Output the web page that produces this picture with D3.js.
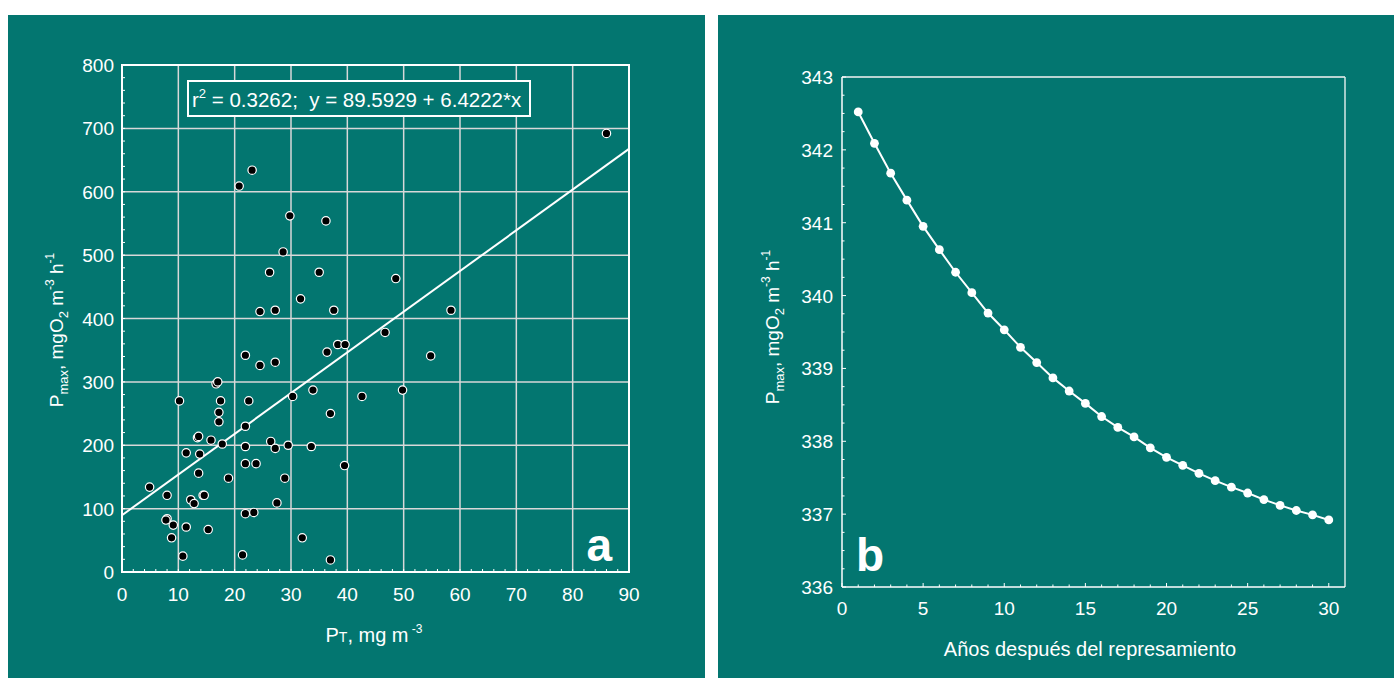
<!DOCTYPE html>
<html>
<head>
<meta charset="utf-8">
<script src="https://cdn.jsdelivr.net/npm/d3@7"></script>
<style>
  body { margin: 0; background: #fff; }
  svg { display: block; font-family: 'Liberation Sans', Arial, sans-serif; }
  text { fill: #fff; }
</style>
</head>
<body>
<svg id="chart" width="1394" height="679"></svg>
<script>
// panel a: total phosphorus vs Pmax
const ptValues = [23.1, 20.8, 29.8, 36.2, 28.6, 26.2, 35.0, 31.7, 24.5, 27.2, 37.6,
  21.9, 24.5, 27.2, 36.4, 38.3, 39.6, 16.7, 17.0, 10.2, 17.5, 22.5, 30.3, 33.9, 42.6,
  17.2, 37.0, 17.2, 21.9, 13.4, 13.6, 15.8, 17.8, 26.4, 27.2, 29.5, 21.9, 33.6, 11.4,
  13.8, 21.9, 23.8, 39.5, 13.6, 18.9, 28.9, 4.9, 8.0, 14.4, 14.6, 12.2, 12.8, 27.5,
  21.9, 23.4, 8.0, 7.8, 9.1, 11.4, 15.3, 8.8, 32.0, 10.8, 21.4, 37.0,
  86.0, 48.6, 58.4, 46.7, 54.8, 49.8];
const pmaxValues = [634, 609, 562, 554, 505, 473, 473, 431, 411, 413, 413,
  342, 326, 331, 347, 359, 359, 297, 300, 270, 270, 270, 277, 287, 277,
  252, 250, 237, 230, 212, 214, 208, 202, 206, 195, 200, 198, 198, 188,
  186, 171, 171, 168, 156, 148, 148, 134, 121, 121, 121, 114, 108, 109,
  92, 94, 84, 82, 74, 71, 67, 54, 54, 25, 27, 19,
  692, 463, 413, 378, 341, 287];
const fitA = 89.5929, fitB = 6.4222;

// panel b: modelled Pmax after damming
const years = d3.range(1, 31);
const pmaxYears = [342.52, 342.09, 341.68, 341.31, 340.95, 340.63, 340.32, 340.04, 339.76, 339.53,
  339.29, 339.08, 338.87, 338.69, 338.52, 338.34, 338.19, 338.06, 337.91, 337.78,
  337.67, 337.56, 337.46, 337.37, 337.29, 337.20, 337.12, 337.05, 336.99, 336.92];

const bg = '#037670';
const tickSize = 19;
const svg = d3.select('#chart');

svg.append('rect').attr('x', 8).attr('y', 15).attr('width', 697).attr('height', 663).attr('fill', bg);
svg.append('rect').attr('x', 718).attr('y', 15).attr('width', 676).attr('height', 663).attr('fill', bg);

function pmaxLabel(g, x, y) {
  const t = g.append('text').attr('transform', 'translate(' + x + ',' + y + ') rotate(-90)')
    .attr('text-anchor', 'middle').attr('font-size', 19);
  t.append('tspan').text('P');
  t.append('tspan').attr('dy', 5).attr('font-size', 13).text('max');
  t.append('tspan').attr('dy', -5).text(', mgO');
  t.append('tspan').attr('dy', 5).attr('font-size', 13).text('2');
  t.append('tspan').attr('dy', -5).text(' m');
  t.append('tspan').attr('dy', -9).attr('font-size', 12).text('-3');
  t.append('tspan').attr('dy', 9).text(' h');
  t.append('tspan').attr('dy', -9).attr('font-size', 12).text('-1');
}

// ---------- panel a ----------
const xa = d3.scaleLinear().domain([0, 90]).range([122, 629]);
const ya = d3.scaleLinear().domain([0, 800]).range([572, 65]);
const ga = svg.append('g');

// grid
ga.append('g').selectAll('line').data(d3.range(10, 90, 10)).enter().append('line')
  .attr('x1', (d) => xa(d)).attr('x2', (d) => xa(d))
  .attr('y1', ya(0)).attr('y2', ya(800))
  .attr('stroke', '#d8d8d8').attr('stroke-width', 1.5);
ga.append('g').selectAll('line').data(d3.range(100, 800, 100)).enter().append('line')
  .attr('x1', xa(0)).attr('x2', xa(90))
  .attr('y1', (d) => ya(d)).attr('y2', (d) => ya(d))
  .attr('stroke', '#d8d8d8').attr('stroke-width', 1.5);

// minor ticks
ga.append('g').selectAll('line').data(d3.range(0, 801, 20)).enter().append('line')
  .attr('x1', xa(0)).attr('x2', xa(0) + 3)
  .attr('y1', (d) => ya(d)).attr('y2', (d) => ya(d))
  .attr('stroke', '#fff').attr('stroke-width', 1);
ga.append('g').selectAll('line').data(d3.range(0, 91, 2)).enter().append('line')
  .attr('x1', (d) => xa(d)).attr('x2', (d) => xa(d))
  .attr('y1', ya(0)).attr('y2', ya(0) - 3)
  .attr('stroke', '#fff').attr('stroke-width', 1);

// frame
ga.append('rect')
  .attr('x', xa(0)).attr('y', ya(800))
  .attr('width', xa(90) - xa(0)).attr('height', ya(0) - ya(800))
  .attr('fill', 'none').attr('stroke', '#fff').attr('stroke-width', 2);

// tick labels
ga.append('g').selectAll('text').data(d3.range(0, 801, 100)).enter().append('text')
  .attr('x', xa(0) - 8).attr('y', (d) => ya(d) + 7)
  .attr('text-anchor', 'end').attr('font-size', tickSize)
  .text((d) => d);
ga.append('g').selectAll('text').data(d3.range(0, 91, 10)).enter().append('text')
  .attr('x', (d) => xa(d)).attr('y', ya(0) + 29)
  .attr('text-anchor', 'middle').attr('font-size', tickSize)
  .text((d) => d);

// regression line
ga.append('line')
  .attr('x1', xa(0)).attr('y1', ya(fitA))
  .attr('x2', xa(90)).attr('y2', ya(fitA + fitB * 90))
  .attr('stroke', '#fff').attr('stroke-width', 2);

// points
ga.append('g').selectAll('circle').data(ptValues).enter().append('circle')
  .attr('cx', (d) => xa(d)).attr('cy', (d, i) => ya(pmaxValues[i]))
  .attr('r', 4.2)
  .attr('fill', '#000').attr('stroke', '#fff').attr('stroke-width', 1.2);

// equation box
ga.append('rect').attr('x', 188).attr('y', 81).attr('width', 342).attr('height', 35)
  .attr('fill', bg).attr('stroke', '#fff').attr('stroke-width', 2);
const eq = ga.append('text').attr('x', 192).attr('y', 107).attr('font-size', 20.5);
eq.append('tspan').text('r');
eq.append('tspan').attr('dy', -9).attr('font-size', 13).text('2');
eq.append('tspan').attr('dy', 9).text('\u00a0= 0.3262;\u00a0\u00a0y = 89.5929 + 6.4222*x');

ga.append('text').attr('x', 612).attr('y', 561).attr('text-anchor', 'end')
  .attr('font-size', 46).attr('font-weight', 'bold').text('a');

// x label
const xla = ga.append('text').attr('x', 374).attr('y', 642).attr('text-anchor', 'middle').attr('font-size', 20);
xla.append('tspan').text('P');
xla.append('tspan').attr('font-size', 14).text('T');
xla.append('tspan').text(', mg m');
xla.append('tspan').attr('dy', -9).attr('font-size', 12).text(' -3');

pmaxLabel(ga, 63, 330);

// ---------- panel b ----------
const xb = d3.scaleLinear().domain([0, 31]).range([842, 1345]);
const yb = d3.scaleLinear().domain([336, 343]).range([587, 77]);
const gb = svg.append('g');

gb.append('line').attr('x1', xb(0)).attr('x2', xb(31)).attr('y1', yb(343)).attr('y2', yb(343))
  .attr('stroke', '#b8d4d2').attr('stroke-width', 2);
gb.append('line').attr('x1', xb(31)).attr('x2', xb(31)).attr('y1', yb(343)).attr('y2', yb(336))
  .attr('stroke', '#d8e8e6').attr('stroke-width', 1.5);
gb.append('line').attr('x1', xb(0)).attr('x2', xb(0)).attr('y1', yb(343)).attr('y2', yb(336))
  .attr('stroke', '#fff').attr('stroke-width', 1.5);
gb.append('line').attr('x1', xb(0)).attr('x2', xb(31)).attr('y1', yb(336)).attr('y2', yb(336))
  .attr('stroke', '#fff').attr('stroke-width', 1.5);

gb.append('g').selectAll('line').data(d3.range(336, 343.01, 0.25)).enter().append('line')
  .attr('x1', xb(0)).attr('x2', (d) => xb(0) + (Math.abs(d - Math.round(d)) < 0.01 ? 4 : 2.5))
  .attr('y1', (d) => yb(d)).attr('y2', (d) => yb(d))
  .attr('stroke', '#fff').attr('stroke-width', 1);
gb.append('g').selectAll('line').data(d3.range(0, 31, 1)).enter().append('line')
  .attr('x1', (d) => xb(d)).attr('x2', (d) => xb(d))
  .attr('y1', yb(336)).attr('y2', (d) => yb(336) - (d % 5 === 0 ? 4 : 2.5))
  .attr('stroke', '#fff').attr('stroke-width', 1);

gb.append('g').selectAll('text').data(d3.range(336, 344)).enter().append('text')
  .attr('x', xb(0) - 9).attr('y', (d) => yb(d) + 7)
  .attr('text-anchor', 'end').attr('font-size', tickSize)
  .text((d) => d);
gb.append('g').selectAll('text').data(d3.range(0, 31, 5)).enter().append('text')
  .attr('x', (d) => xb(d)).attr('y', yb(336) + 28)
  .attr('text-anchor', 'middle').attr('font-size', tickSize)
  .text((d) => d);

gb.append('path')
  .datum(years)
  .attr('d', d3.line().x((d) => xb(d)).y((d, i) => yb(pmaxYears[i])))
  .attr('fill', 'none').attr('stroke', '#fff').attr('stroke-width', 2);
gb.append('g').selectAll('circle').data(years).enter().append('circle')
  .attr('cx', (d) => xb(d)).attr('cy', (d, i) => yb(pmaxYears[i]))
  .attr('r', 4.4).attr('fill', '#fff');

gb.append('text').attr('x', 856).attr('y', 571)
  .attr('font-size', 46).attr('font-weight', 'bold').text('b');

gb.append('text').attr('x', 1090).attr('y', 656).attr('text-anchor', 'middle')
  .attr('font-size', 20).text('Años después del represamiento');

pmaxLabel(gb, 779, 327);
</script>
</body>
</html>
